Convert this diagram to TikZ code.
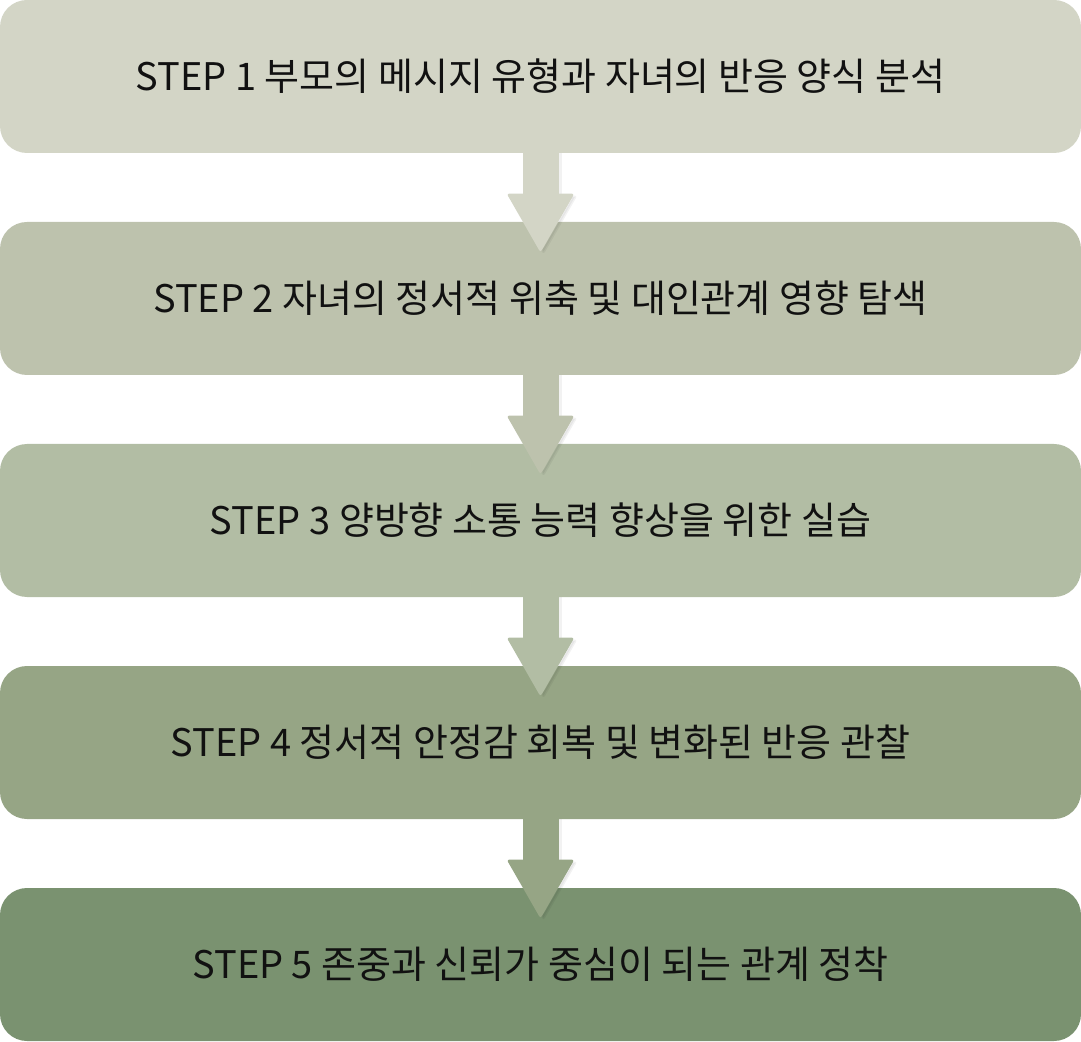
\documentclass[tikz,border=0pt]{standalone}
\usepackage{fontspec}
\setmainfont{Noto Sans CJK KR}
\usetikzlibrary{arrows.meta,calc}

\definecolor{stepA}{RGB}{211,213,198}
\definecolor{stepB}{RGB}{189,194,173}
\definecolor{stepC}{RGB}{178,189,164}
\definecolor{stepD}{RGB}{150,165,133}
\definecolor{stepE}{RGB}{122,146,112}
\definecolor{steptext}{RGB}{17,17,17}

\tikzset{
  stepbox/.style={rectangle,rounded corners=13.5pt,minimum width=540.5pt,minimum height=76.5pt,
    inner sep=0pt,outer sep=0pt,text=steptext,font=\fontsize{19pt}{23pt}\selectfont},
  steparrow/.style={line width=18pt,-{Triangle[width=33.5pt,length=29.5pt,line width=1.5pt,round]}},
  stepshadow/.style={steparrow,draw=black,opacity=0.05}
}

\begin{document}
\begin{tikzpicture}[x=0.5pt,y=0.5pt]
	\useasboundingbox (0,0) rectangle (1081,-1042);
	\foreach \i/\col/\txt in {1/stepA/{STEP 1 부모의 메시지 유형과 자녀의 반응 양식 분석},
	                          2/stepB/{STEP 2 자녀의 정서적 위축 및 대인관계 영향 탐색},
	                          3/stepC/{STEP 3 양방향 소통 능력 향상을 위한 실습},
	                          4/stepD/{STEP 4 정서적 안정감 회복 및 변화된 반응 관찰},
	                          5/stepE/{STEP 5 존중과 신뢰가 중심이 되는 관계 정착}}
	{
		\node[stepbox,fill=\col] (s\i) at (540.5,{-76.5-(\i-1)*222}) {\txt};
	}
	% arrows go on top of the next box
	\foreach \i/\j/\col in {1/2/stepA,2/3/stepB,3/4/stepC,4/5/stepD}
	{
		\draw[stepshadow] ($(s\i.south)+(1.5pt,0)$) -- ($(s\j.north)+(1.5pt,-15.5pt)$);
		\draw[steparrow,draw=\col] (s\i.south) -- ($(s\j.north)+(0,-14.5pt)$);
	}
\end{tikzpicture}
\end{document}
